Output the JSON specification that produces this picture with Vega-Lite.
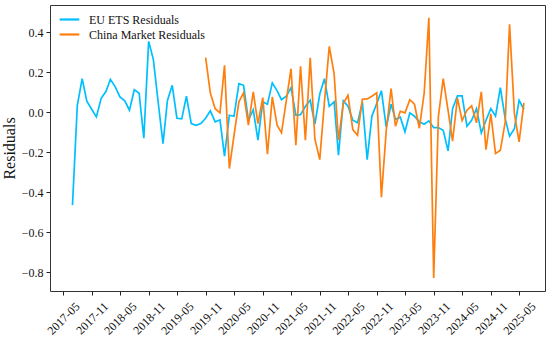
{
  "$schema": "https://vega.github.io/schema/vega-lite/v6.json",
  "width": 495,
  "height": 286,
  "autosize": {"type": "none"},
  "padding": {"left": 50, "top": 5, "right": 5, "bottom": 46},
  "background": "white",
  "config": {
    "font": "Liberation Serif",
    "style": {"guide-label": {"font": "Liberation Serif"}, "guide-title": {"font": "Liberation Serif"}},
    "view": {"stroke": "#333333", "strokeWidth": 1},
    "axis": {"grid": false, "domain": false, "tickColor": "#222222", "tickSize": 4, "labelColor": "#111111", "titleColor": "#111111", "labelFont": "Liberation Serif", "titleFont": "Liberation Serif", "labelFontSize": 12, "titleFontWeight": "normal"}
  },
  "datasets": {
    "eu": [
      {"date": "2017-07-01", "series": "EU ETS Residuals", "value": -0.465},
      {"date": "2017-08-01", "series": "EU ETS Residuals", "value": 0.035},
      {"date": "2017-09-01", "series": "EU ETS Residuals", "value": 0.168},
      {"date": "2017-10-01", "series": "EU ETS Residuals", "value": 0.055},
      {"date": "2017-11-01", "series": "EU ETS Residuals", "value": 0.015},
      {"date": "2017-12-01", "series": "EU ETS Residuals", "value": -0.023},
      {"date": "2018-01-01", "series": "EU ETS Residuals", "value": 0.07},
      {"date": "2018-02-01", "series": "EU ETS Residuals", "value": 0.105},
      {"date": "2018-03-01", "series": "EU ETS Residuals", "value": 0.165},
      {"date": "2018-04-01", "series": "EU ETS Residuals", "value": 0.127},
      {"date": "2018-05-01", "series": "EU ETS Residuals", "value": 0.077},
      {"date": "2018-06-01", "series": "EU ETS Residuals", "value": 0.057},
      {"date": "2018-07-01", "series": "EU ETS Residuals", "value": 0.01},
      {"date": "2018-08-01", "series": "EU ETS Residuals", "value": 0.113},
      {"date": "2018-09-01", "series": "EU ETS Residuals", "value": 0.095},
      {"date": "2018-10-01", "series": "EU ETS Residuals", "value": -0.13},
      {"date": "2018-11-01", "series": "EU ETS Residuals", "value": 0.355},
      {"date": "2018-12-01", "series": "EU ETS Residuals", "value": 0.265},
      {"date": "2019-01-01", "series": "EU ETS Residuals", "value": 0.05},
      {"date": "2019-02-01", "series": "EU ETS Residuals", "value": -0.157},
      {"date": "2019-03-01", "series": "EU ETS Residuals", "value": 0.058},
      {"date": "2019-04-01", "series": "EU ETS Residuals", "value": 0.135},
      {"date": "2019-05-01", "series": "EU ETS Residuals", "value": -0.03},
      {"date": "2019-06-01", "series": "EU ETS Residuals", "value": -0.033},
      {"date": "2019-07-01", "series": "EU ETS Residuals", "value": 0.08},
      {"date": "2019-08-01", "series": "EU ETS Residuals", "value": -0.057},
      {"date": "2019-09-01", "series": "EU ETS Residuals", "value": -0.065},
      {"date": "2019-10-01", "series": "EU ETS Residuals", "value": -0.057},
      {"date": "2019-11-01", "series": "EU ETS Residuals", "value": -0.03},
      {"date": "2019-12-01", "series": "EU ETS Residuals", "value": 0.007},
      {"date": "2020-01-01", "series": "EU ETS Residuals", "value": -0.048},
      {"date": "2020-02-01", "series": "EU ETS Residuals", "value": -0.038},
      {"date": "2020-03-01", "series": "EU ETS Residuals", "value": -0.22},
      {"date": "2020-04-01", "series": "EU ETS Residuals", "value": -0.015},
      {"date": "2020-05-01", "series": "EU ETS Residuals", "value": -0.02},
      {"date": "2020-06-01", "series": "EU ETS Residuals", "value": 0.143},
      {"date": "2020-07-01", "series": "EU ETS Residuals", "value": 0.135},
      {"date": "2020-08-01", "series": "EU ETS Residuals", "value": -0.04},
      {"date": "2020-09-01", "series": "EU ETS Residuals", "value": 0.013},
      {"date": "2020-10-01", "series": "EU ETS Residuals", "value": -0.14},
      {"date": "2020-11-01", "series": "EU ETS Residuals", "value": 0.052},
      {"date": "2020-12-01", "series": "EU ETS Residuals", "value": 0.04},
      {"date": "2021-01-01", "series": "EU ETS Residuals", "value": 0.147},
      {"date": "2021-02-01", "series": "EU ETS Residuals", "value": 0.107},
      {"date": "2021-03-01", "series": "EU ETS Residuals", "value": 0.063},
      {"date": "2021-04-01", "series": "EU ETS Residuals", "value": 0.08},
      {"date": "2021-05-01", "series": "EU ETS Residuals", "value": 0.123},
      {"date": "2021-06-01", "series": "EU ETS Residuals", "value": -0.015},
      {"date": "2021-07-01", "series": "EU ETS Residuals", "value": -0.012},
      {"date": "2021-08-01", "series": "EU ETS Residuals", "value": 0.03},
      {"date": "2021-09-01", "series": "EU ETS Residuals", "value": 0.06},
      {"date": "2021-10-01", "series": "EU ETS Residuals", "value": -0.06},
      {"date": "2021-11-01", "series": "EU ETS Residuals", "value": 0.09},
      {"date": "2021-12-01", "series": "EU ETS Residuals", "value": 0.168},
      {"date": "2022-01-01", "series": "EU ETS Residuals", "value": 0.03},
      {"date": "2022-02-01", "series": "EU ETS Residuals", "value": 0.052},
      {"date": "2022-03-01", "series": "EU ETS Residuals", "value": -0.215},
      {"date": "2022-04-01", "series": "EU ETS Residuals", "value": 0.057},
      {"date": "2022-05-01", "series": "EU ETS Residuals", "value": 0.03},
      {"date": "2022-06-01", "series": "EU ETS Residuals", "value": -0.04},
      {"date": "2022-07-01", "series": "EU ETS Residuals", "value": -0.053},
      {"date": "2022-08-01", "series": "EU ETS Residuals", "value": 0.05},
      {"date": "2022-09-01", "series": "EU ETS Residuals", "value": -0.237},
      {"date": "2022-10-01", "series": "EU ETS Residuals", "value": -0.02},
      {"date": "2022-11-01", "series": "EU ETS Residuals", "value": 0.043},
      {"date": "2022-12-01", "series": "EU ETS Residuals", "value": 0.108},
      {"date": "2023-01-01", "series": "EU ETS Residuals", "value": -0.075},
      {"date": "2023-02-01", "series": "EU ETS Residuals", "value": 0.04},
      {"date": "2023-03-01", "series": "EU ETS Residuals", "value": -0.035},
      {"date": "2023-04-01", "series": "EU ETS Residuals", "value": -0.025},
      {"date": "2023-05-01", "series": "EU ETS Residuals", "value": -0.098},
      {"date": "2023-06-01", "series": "EU ETS Residuals", "value": -0.003},
      {"date": "2023-07-01", "series": "EU ETS Residuals", "value": -0.02},
      {"date": "2023-08-01", "series": "EU ETS Residuals", "value": -0.048},
      {"date": "2023-09-01", "series": "EU ETS Residuals", "value": -0.06},
      {"date": "2023-10-01", "series": "EU ETS Residuals", "value": -0.043},
      {"date": "2023-11-01", "series": "EU ETS Residuals", "value": -0.077},
      {"date": "2023-12-01", "series": "EU ETS Residuals", "value": -0.077},
      {"date": "2024-01-01", "series": "EU ETS Residuals", "value": -0.09},
      {"date": "2024-02-01", "series": "EU ETS Residuals", "value": -0.193},
      {"date": "2024-03-01", "series": "EU ETS Residuals", "value": 0.018},
      {"date": "2024-04-01", "series": "EU ETS Residuals", "value": 0.082},
      {"date": "2024-05-01", "series": "EU ETS Residuals", "value": 0.082},
      {"date": "2024-06-01", "series": "EU ETS Residuals", "value": -0.07},
      {"date": "2024-07-01", "series": "EU ETS Residuals", "value": -0.04},
      {"date": "2024-08-01", "series": "EU ETS Residuals", "value": 0.018},
      {"date": "2024-09-01", "series": "EU ETS Residuals", "value": -0.103},
      {"date": "2024-10-01", "series": "EU ETS Residuals", "value": -0.04},
      {"date": "2024-11-01", "series": "EU ETS Residuals", "value": 0.018},
      {"date": "2024-12-01", "series": "EU ETS Residuals", "value": -0.02},
      {"date": "2025-01-01", "series": "EU ETS Residuals", "value": 0.123},
      {"date": "2025-02-01", "series": "EU ETS Residuals", "value": -0.032},
      {"date": "2025-03-01", "series": "EU ETS Residuals", "value": -0.12},
      {"date": "2025-04-01", "series": "EU ETS Residuals", "value": -0.082},
      {"date": "2025-05-01", "series": "EU ETS Residuals", "value": 0.06},
      {"date": "2025-06-01", "series": "EU ETS Residuals", "value": 0.015}
    ],
    "cn": [
      {"date": "2019-11-01", "series": "China Market Residuals", "value": 0.273},
      {"date": "2019-12-01", "series": "China Market Residuals", "value": 0.097},
      {"date": "2020-01-01", "series": "China Market Residuals", "value": 0.018},
      {"date": "2020-02-01", "series": "China Market Residuals", "value": -0.003},
      {"date": "2020-03-01", "series": "China Market Residuals", "value": 0.235},
      {"date": "2020-04-01", "series": "China Market Residuals", "value": -0.282},
      {"date": "2020-05-01", "series": "China Market Residuals", "value": -0.115},
      {"date": "2020-06-01", "series": "China Market Residuals", "value": 0.052},
      {"date": "2020-07-01", "series": "China Market Residuals", "value": 0.097},
      {"date": "2020-08-01", "series": "China Market Residuals", "value": -0.065},
      {"date": "2020-09-01", "series": "China Market Residuals", "value": 0.102},
      {"date": "2020-10-01", "series": "China Market Residuals", "value": -0.057},
      {"date": "2020-11-01", "series": "China Market Residuals", "value": 0.073},
      {"date": "2020-12-01", "series": "China Market Residuals", "value": -0.21},
      {"date": "2021-01-01", "series": "China Market Residuals", "value": 0.077},
      {"date": "2021-02-01", "series": "China Market Residuals", "value": -0.065},
      {"date": "2021-03-01", "series": "China Market Residuals", "value": -0.103},
      {"date": "2021-04-01", "series": "China Market Residuals", "value": 0.06},
      {"date": "2021-05-01", "series": "China Market Residuals", "value": 0.218},
      {"date": "2021-06-01", "series": "China Market Residuals", "value": -0.165},
      {"date": "2021-07-01", "series": "China Market Residuals", "value": 0.23},
      {"date": "2021-08-01", "series": "China Market Residuals", "value": -0.14},
      {"date": "2021-09-01", "series": "China Market Residuals", "value": 0.273},
      {"date": "2021-10-01", "series": "China Market Residuals", "value": -0.135},
      {"date": "2021-11-01", "series": "China Market Residuals", "value": -0.237},
      {"date": "2021-12-01", "series": "China Market Residuals", "value": 0.05},
      {"date": "2022-01-01", "series": "China Market Residuals", "value": 0.33},
      {"date": "2022-02-01", "series": "China Market Residuals", "value": 0.193},
      {"date": "2022-03-01", "series": "China Market Residuals", "value": -0.14},
      {"date": "2022-04-01", "series": "China Market Residuals", "value": 0.045},
      {"date": "2022-05-01", "series": "China Market Residuals", "value": 0.085},
      {"date": "2022-06-01", "series": "China Market Residuals", "value": -0.087},
      {"date": "2022-07-01", "series": "China Market Residuals", "value": -0.115},
      {"date": "2022-08-01", "series": "China Market Residuals", "value": 0.065},
      {"date": "2022-09-01", "series": "China Market Residuals", "value": 0.067},
      {"date": "2022-10-01", "series": "China Market Residuals", "value": 0.08},
      {"date": "2022-11-01", "series": "China Market Residuals", "value": 0.097},
      {"date": "2022-12-01", "series": "China Market Residuals", "value": -0.425},
      {"date": "2023-01-01", "series": "China Market Residuals", "value": -0.09},
      {"date": "2023-02-01", "series": "China Market Residuals", "value": 0.118},
      {"date": "2023-03-01", "series": "China Market Residuals", "value": -0.07},
      {"date": "2023-04-01", "series": "China Market Residuals", "value": 0.005},
      {"date": "2023-05-01", "series": "China Market Residuals", "value": -0.003},
      {"date": "2023-06-01", "series": "China Market Residuals", "value": 0.063},
      {"date": "2023-07-01", "series": "China Market Residuals", "value": 0.04},
      {"date": "2023-08-01", "series": "China Market Residuals", "value": -0.08},
      {"date": "2023-09-01", "series": "China Market Residuals", "value": 0.095},
      {"date": "2023-10-01", "series": "China Market Residuals", "value": 0.473},
      {"date": "2023-11-01", "series": "China Market Residuals", "value": -0.83},
      {"date": "2023-12-01", "series": "China Market Residuals", "value": -0.022},
      {"date": "2024-01-01", "series": "China Market Residuals", "value": 0.168},
      {"date": "2024-02-01", "series": "China Market Residuals", "value": 0.01},
      {"date": "2024-03-01", "series": "China Market Residuals", "value": -0.145},
      {"date": "2024-04-01", "series": "China Market Residuals", "value": 0.072},
      {"date": "2024-05-01", "series": "China Market Residuals", "value": -0.042},
      {"date": "2024-06-01", "series": "China Market Residuals", "value": 0.01},
      {"date": "2024-07-01", "series": "China Market Residuals", "value": 0.032},
      {"date": "2024-08-01", "series": "China Market Residuals", "value": -0.053},
      {"date": "2024-09-01", "series": "China Market Residuals", "value": 0.102},
      {"date": "2024-10-01", "series": "China Market Residuals", "value": -0.187},
      {"date": "2024-11-01", "series": "China Market Residuals", "value": -0.008},
      {"date": "2024-12-01", "series": "China Market Residuals", "value": -0.207},
      {"date": "2025-01-01", "series": "China Market Residuals", "value": -0.19},
      {"date": "2025-02-01", "series": "China Market Residuals", "value": -0.05},
      {"date": "2025-03-01", "series": "China Market Residuals", "value": 0.44},
      {"date": "2025-04-01", "series": "China Market Residuals", "value": -0.007},
      {"date": "2025-05-01", "series": "China Market Residuals", "value": -0.148},
      {"date": "2025-06-01", "series": "China Market Residuals", "value": 0.047}
    ]
  },
  "encoding": {
    "x": {
      "field": "date",
      "type": "temporal",
      "scale": {
        "type": "utc",
        "domain": [
          {"year": 2017, "month": 2, "date": 7, "utc": true},
          {"year": 2025, "month": 10, "date": 14, "utc": true}
        ],
        "nice": false
      },
      "axis": {
        "title": null,
        "format": "%Y-%m",
        "labelFont": "Liberation Serif",
        "labelFontSize": 12,
        "labelAngle": -45,
        "labelAlign": "center",
        "labelBaseline": "middle",
        "labelPadding": 23,
        "labelOverlap": false,
        "labelFlush": false,
        "values": [
          {"year": 2017, "month": 5, "date": 1, "utc": true},
          {"year": 2017, "month": 11, "date": 1, "utc": true},
          {"year": 2018, "month": 5, "date": 1, "utc": true},
          {"year": 2018, "month": 11, "date": 1, "utc": true},
          {"year": 2019, "month": 5, "date": 1, "utc": true},
          {"year": 2019, "month": 11, "date": 1, "utc": true},
          {"year": 2020, "month": 5, "date": 1, "utc": true},
          {"year": 2020, "month": 11, "date": 1, "utc": true},
          {"year": 2021, "month": 5, "date": 1, "utc": true},
          {"year": 2021, "month": 11, "date": 1, "utc": true},
          {"year": 2022, "month": 5, "date": 1, "utc": true},
          {"year": 2022, "month": 11, "date": 1, "utc": true},
          {"year": 2023, "month": 5, "date": 1, "utc": true},
          {"year": 2023, "month": 11, "date": 1, "utc": true},
          {"year": 2024, "month": 5, "date": 1, "utc": true},
          {"year": 2024, "month": 11, "date": 1, "utc": true},
          {"year": 2025, "month": 5, "date": 1, "utc": true}
        ]
      }
    },
    "y": {
      "field": "value",
      "type": "quantitative",
      "scale": {"domain": [-0.895, 0.537], "nice": false, "zero": false},
      "axis": {
        "title": "Residuals",
        "titleFont": "Liberation Serif",
        "titleFontSize": 16,
        "titlePadding": 4,
        "labelFont": "Liberation Serif",
        "labelFontSize": 12,
        "format": ".1f",
        "values": [-0.8, -0.6, -0.4, -0.2, 0.0, 0.2, 0.4],
        "labelPadding": 3
      }
    },
    "color": {
      "field": "series",
      "type": "nominal",
      "scale": {
        "domain": ["EU ETS Residuals", "China Market Residuals"],
        "range": ["#00BFFF", "#FF7F0E"]
      },
      "legend": {
        "title": null,
        "orient": "none",
        "legendX": 11,
        "legendY": 6,
        "padding": 0,
        "symbolType": "M-1.4,0H1.4",
        "symbolSize": 196,
        "symbolStrokeWidth": 2.2,
        "labelFont": "Liberation Serif",
        "labelFontSize": 12,
        "labelColor": "#111111",
        "labelOffset": 11,
        "rowPadding": 0
      }
    }
  },
  "layer": [
    {"data": {"name": "eu"}, "mark": {"type": "line", "strokeWidth": 1.7}},
    {"data": {"name": "cn"}, "mark": {"type": "line", "strokeWidth": 1.7}}
  ]
}
